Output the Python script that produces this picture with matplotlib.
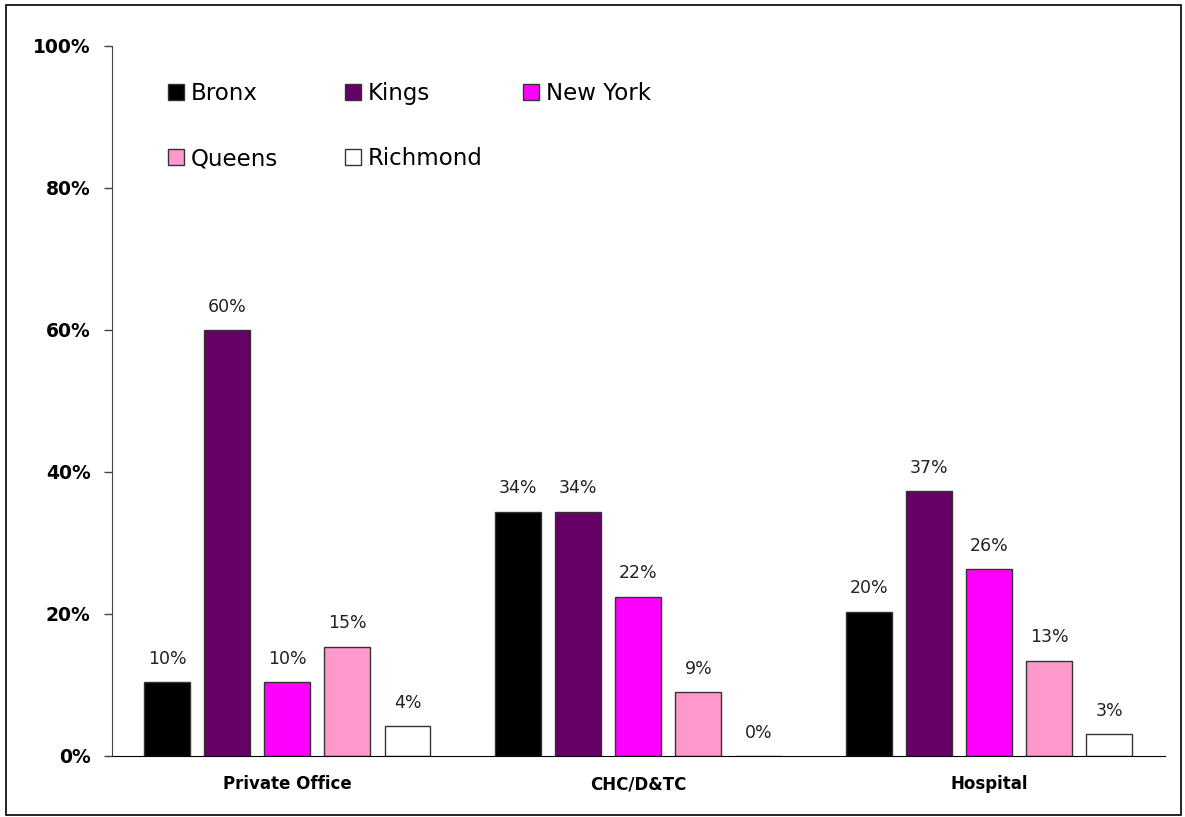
import numpy as np
import matplotlib
matplotlib.use("Agg")
import matplotlib.pyplot as plt
from matplotlib.patches import Rectangle

plt.rcParams['font.family'] = ['DejaVu Sans']

categories = ["Private Office", "CHC/D&TC", "Hospital"]
boroughs = ["Bronx", "Kings", "New York", "Queens", "Richmond"]
bronx = [10.4, 34.4, 20.3]
kings = [60.0, 34.4, 37.3]
new_york = [10.4, 22.4, 26.3]
queens = [15.4, 9.0, 13.4]
richmond = [4.2, 0.0, 3.1]
series = [bronx, kings, new_york, queens, richmond]
colors = ["#000000", "#660066", "#ff00ff", "#ff99cc", "#ffffff"]

fig = plt.figure(figsize=(11.85, 8.17), dpi=100)
ax = fig.add_axes([0.0945, 0.0747, 0.8885, 0.869])

x = np.arange(len(categories))
step = 0.171
width = 0.131
handles = []
for i, (vals, col) in enumerate(zip(series, colors)):
    pos = x + (i - 2) * step
    bars = ax.bar(pos, vals, width, color=col, edgecolor="#333333", linewidth=1.0, label=boroughs[i])
    handles.append(bars)
    for p, v in zip(pos, vals):
        ax.text(p, v + 2.6, "%d%%" % round(v), ha="center", va="baseline", fontsize=12.5, color="#222222")

ax.set_xlim(-0.5, 2.5)
ax.set_ylim(0, 100)
ax.set_yticks([0, 20, 40, 60, 80, 100])
ax.set_yticklabels(["0%", "20%", "40%", "60%", "80%", "100%"], fontsize=13.5, fontweight="bold")
ax.set_xticks(x)
ax.set_xticklabels(categories, fontsize=12, fontweight="bold")
ax.tick_params(axis="x", length=0, pad=14)
ax.tick_params(axis="y", length=5.5, width=1, color="#444444", pad=10)
for s in ["top", "right"]:
    ax.spines[s].set_visible(False)
ax.spines["left"].set_color("#444444")
ax.spines["bottom"].set_color("#000000")

# one legend per column so the columns sit at fixed places
columns = [[0, 3], [1, 4], [2]]
col_x = [168 / 1185, 345 / 1185, 523 / 1185]
for idx, cx in zip(columns, col_x):
    leg = fig.legend([handles[k] for k in idx], [boroughs[k] for k in idx],
                     loc="upper left", bbox_to_anchor=(cx, 1 - 82 / 817), frameon=False,
                     fontsize=16.5, handlelength=0.7, handleheight=0.7, handletextpad=0.3,
                     labelspacing=1.85, borderpad=0, borderaxespad=0)

fig.patches.append(Rectangle((0.005, 0.002), 0.992, 0.992, transform=fig.transFigure,
                             fill=False, edgecolor="black", linewidth=1.2))

fig.savefig("out.png", dpi=100)
